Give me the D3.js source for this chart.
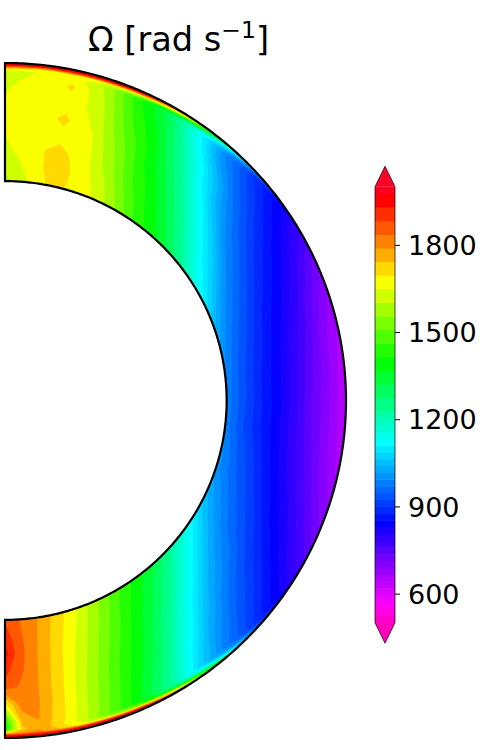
<!DOCTYPE html>
<meta charset="utf-8">
<style>body { margin: 0; background: #fff; }</style>
<script src="https://d3js.org/d3.v7.min.js"></script>
<div id="chart"></div>
<script>

// grid of the meridional slice: latitude in degrees and fractional radius
var latitudes = [90, 87, 84, 78, 72, 66, 60, 54, 48, 42, 36, 30, 24, 18, 12, 6, 0,
    -6, -12, -18, -24, -30, -36, -42, -48, -54, -60, -66, -72, -78, -84, -87, -90];
var radii = [0.65, 0.70, 0.75, 0.80, 0.85, 0.90, 0.95, 0.975, 0.985, 0.993, 1.0];

// rotation rate, one row per latitude
var omega = [
    [1590, 1620, 1640, 1650, 1660, 1650, 1640, 1600, 1750, 1960, 2000],
    [1610, 1640, 1660, 1650, 1670, 1680, 1650, 1630, 1720, 1960, 2000],
    [1650, 1665, 1680, 1672, 1670, 1685, 1660, 1655, 1690, 1950, 2000],
    [1710, 1722, 1712, 1680, 1705, 1680, 1702, 1680, 1700, 1950, 2000],
    [1685, 1680, 1672, 1660, 1640, 1625, 1600, 1590, 1650, 1950, 2000],
    [1640, 1615, 1575, 1550, 1515, 1475, 1440, 1425, 1560, 1900, 2000],
    [1550, 1505, 1460, 1425, 1400, 1365, 1320, 1290, 1350, 1700, 1900],
    [1445, 1410, 1375, 1325, 1265, 1205, 1140, 1120, 1180, 1400, 1600],
    [1385, 1330, 1265, 1190, 1125, 1075, 1005, 985, 1010, 1100, 1200],
    [1300, 1220, 1150, 1085, 1015, 968, 925, 905, 895, 930, 1000],
    [1210, 1130, 1065, 990, 942, 902, 865, 848, 842, 845, 870],
    [1138, 1065, 990, 940, 892, 855, 815, 795, 788, 785, 790],
    [1085, 1002, 948, 898, 858, 818, 772, 745, 735, 725, 722],
    [1035, 968, 918, 868, 830, 785, 730, 705, 695, 688, 685],
    [1005, 945, 895, 852, 806, 762, 702, 680, 672, 665, 662],
    [990, 932, 882, 840, 795, 742, 695, 670, 662, 655, 652],
    [985, 930, 880, 838, 790, 735, 690, 665, 655, 650, 648],
    [985, 925, 880, 838, 792, 738, 692, 668, 660, 655, 652],
    [1000, 940, 895, 848, 800, 755, 700, 680, 670, 662, 660],
    [1005, 958, 915, 868, 825, 778, 728, 703, 695, 690, 685],
    [1040, 985, 940, 898, 852, 812, 768, 742, 732, 722, 720],
    [1088, 1022, 972, 932, 892, 850, 808, 790, 782, 775, 775],
    [1150, 1085, 1022, 982, 935, 900, 862, 842, 836, 840, 850],
    [1230, 1162, 1098, 1040, 995, 955, 920, 905, 895, 920, 990],
    [1325, 1258, 1200, 1132, 1080, 1030, 992, 975, 1000, 1090, 1180],
    [1396, 1356, 1310, 1252, 1200, 1145, 1095, 1075, 1150, 1400, 1600],
    [1478, 1440, 1408, 1375, 1340, 1295, 1247, 1225, 1340, 1700, 1900],
    [1570, 1542, 1512, 1478, 1448, 1420, 1392, 1380, 1520, 1900, 2000],
    [1660, 1640, 1615, 1595, 1570, 1550, 1530, 1515, 1600, 1950, 2000],
    [1740, 1725, 1712, 1700, 1690, 1680, 1670, 1660, 1700, 1950, 2000],
    [1820, 1815, 1810, 1805, 1800, 1800, 1790, 1780, 1800, 1960, 2000],
    [1840, 1850, 1860, 1850, 1830, 1810, 1760, 1730, 1790, 1960, 2000],
    [1870, 1915, 1950, 1900, 1860, 1680, 1420, 1400, 1700, 1950, 2000]
];

// colour levels and colorbar ticks: the bands are narrower below about 1200
var levelMin = 500, levelMax = 2000;
var coarseLevels = d3.range(17).map(function(i) { return 1976 - 46.8 * i; });
var fineLevels = d3.range(1, 31).map(function(i) { return 1227.2 - 23.4 * i; });
var levels = [levelMin].concat(fineLevels, coarseLevels).sort(d3.ascending);
var tickValues = [600, 900, 1200, 1500, 1800];

// gist_rainbow, reversed along the value axis
var cmapPos = [0, 0.03, 0.215, 0.4, 0.586, 0.77, 0.954, 1];
var cmapColors = ["#ff0029", "#ff0000", "#ffff00", "#00ff00", "#00ffff", "#0000ff", "#ff00ff", "#ff00bf"];

var rainbow = d3.scaleLinear().domain(cmapPos).range(cmapColors).interpolate(d3.interpolateRgb);
function colorOf(v) { return rainbow(1 - (v - levelMin) / (levelMax - levelMin)); }
function bandTop(i) { return i < levels.length - 1 ? levels[i + 1] : levelMax; }
function bandColor(i) { return colorOf((levels[i] + bandTop(i)) / 2); }

var svg = d3.select("#chart").append("svg")
    .attr("width", 500)
    .attr("height", 750)
    .style("display", "block")
    .style("font-family", "'DejaVu Sans'");

// position scales of the slice
var x = d3.scaleLinear().domain([0, 1]).range([5, 346]);
var y = d3.scaleLinear().domain([-1, 1]).range([738, 63]);

// grid index -> radius / latitude, the contour polygons come back in index units
var rOfIndex = d3.scaleLinear()
    .domain(radii.map(function(d, i) { return i + 0.5; }))
    .range(radii)
    .clamp(true);
var latOfIndex = d3.scaleLinear()
    .domain(latitudes.map(function(d, i) { return i + 0.5; }))
    .range(latitudes)
    .clamp(true);

function toPixel(r, lat) {
    var a = lat * Math.PI / 180;
    return [x(r * Math.cos(a)), y(r * Math.sin(a))];
}

// split every ring edge so the grid edges follow the curved slice
function ringPath(ring) {
    var out = [];
    for (var k = 0; k < ring.length - 1; k++) {
        for (var s = 0; s < 6; s++) {
            var t = s / 6;
            var gx = ring[k][0] + (ring[k + 1][0] - ring[k][0]) * t;
            var gy = ring[k][1] + (ring[k + 1][1] - ring[k][1]) * t;
            out.push(toPixel(rOfIndex(gx), latOfIndex(gy)));
        }
    }
    return "M" + out.join("L") + "Z";
}

var contours = d3.contours()
    .size([radii.length, latitudes.length])
    .thresholds(levels)(d3.merge(omega));

svg.append("g").selectAll("path")
    .data(contours)
    .enter()
    .append("path")
        .attr("d", function(c) {
            return c.coordinates.map(function(poly) {
                return poly.map(ringPath).join("");
            }).join("");
        })
        .attr("fill-rule", "evenodd")
        .attr("fill", function(c, i) { return bandColor(i); });

// outline of the slice
var arcLats = d3.range(90, -90.25, -0.5);
var arcLine = d3.line();
var outline = arcLats.map(function(d) { return toPixel(1, d); })
    .concat(arcLats.slice().reverse().map(function(d) { return toPixel(radii[0], d); }));
svg.append("path")
    .attr("d", arcLine(outline) + "Z")
    .attr("fill", "none")
    .attr("stroke", "#000")
    .attr("stroke-width", 2.2);

// title
var title = svg.append("text")
    .attr("x", 88)
    .attr("y", 51)
    .style("font-size", "33.6px");
title.append("tspan").text("\u03A9 [rad s");
title.append("tspan").attr("dy", -13).style("font-size", "23.5px").text("\u22121");
title.append("tspan").attr("dy", 13).text("]");

// colorbar
var barX = 375, barW = 20, barTip = 20.5;
var cb = d3.scaleLinear().domain([levelMin, levelMax]).range([622.7, 186.7]);
var bar = svg.append("g");

bar.selectAll("rect")
    .data(levels)
    .enter()
    .append("rect")
        .attr("x", barX)
        .attr("width", barW)
        .attr("y", function(d, i) { return cb(bandTop(i)); })
        .attr("height", function(d, i) { return cb(d) - cb(bandTop(i)) + 0.5; })
        .attr("fill", function(d, i) { return bandColor(i); });

// extend triangles
bar.append("path")
    .attr("d", d3.line()([[barX, cb(levelMax)], [barX + barW / 2, cb(levelMax) - barTip], [barX + barW, cb(levelMax)]]) + "Z")
    .attr("fill", colorOf(levelMax));
bar.append("path")
    .attr("d", d3.line()([[barX, cb(levelMin)], [barX + barW / 2, cb(levelMin) + barTip], [barX + barW, cb(levelMin)]]) + "Z")
    .attr("fill", colorOf(levelMin));

// outline around bar and triangles
bar.append("path")
    .attr("d", d3.line()([
        [barX, cb(levelMax)], [barX + barW / 2, cb(levelMax) - barTip], [barX + barW, cb(levelMax)],
        [barX + barW, cb(levelMin)], [barX + barW / 2, cb(levelMin) + barTip], [barX, cb(levelMin)]
    ]) + "Z")
    .attr("fill", "none")
    .attr("stroke", "#000")
    .attr("stroke-opacity", 0.7)
    .attr("stroke-width", 1);

var axis = svg.append("g")
    .attr("transform", "translate(" + (barX + barW) + ",0)")
    .call(d3.axisRight(cb).tickValues(tickValues).tickSize(5).tickPadding(8).tickFormat(d3.format("d")));
axis.select(".domain").remove();
axis.selectAll("text")
    .style("font-family", "'DejaVu Sans'")
    .style("font-size", "27px")
    .attr("dy", "0.36em")
    .attr("fill", "#000");
axis.selectAll("line").attr("stroke", "#000");

</script>
